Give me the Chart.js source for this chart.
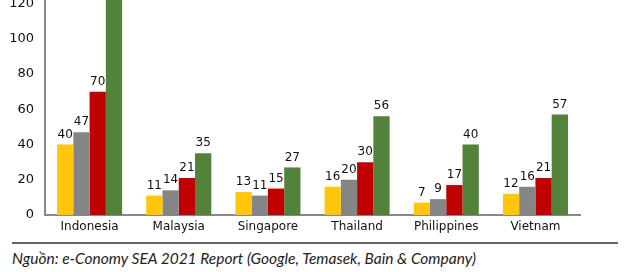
<!DOCTYPE html>
<html>
<head>
<meta charset="utf-8">
<script src="https://cdn.jsdelivr.net/npm/chart.js@4/dist/chart.umd.min.js"></script>
<style>
  html, body { margin: 0; padding: 0; background: #fff; }
  #wrap { position: relative; width: 640px; height: 272px; overflow: hidden; }
  #chart { position: absolute; left: 0; top: 0; }
  #sep { position: absolute; left: 12px; top: 242px; width: 606px; height: 0; border-top: 2px solid #666; }
  #nguon { position: absolute; left: 12px; top: 249px; font: italic 15.5px Lato, "Open Sans", sans-serif; color: #222; white-space: nowrap; }
</style>
</head>
<body>
<div id="wrap">
  <canvas id="chart" width="640" height="241"></canvas>
  <div id="sep"></div>
  <div id="nguon">Nguồn: e-Conomy SEA 2021 Report (Google, Temasek, Bain &amp; Company)</div>
</div>
<script>
// --- Dữ liệu ---
const quocGia = ["Indonesia", "Malaysia", "Singapore", "Thailand", "Philippines", "Vietnam"];
const nam2019 = [40, 11, 13, 16, 7, 12];
const nam2020 = [47, 14, 11, 20, 9, 16];
const nam2021 = [70, 21, 15, 30, 17, 21];
const nam2025 = [146, 35, 27, 56, 40, 57];
const mocY = [0, 20, 40, 60, 80, 100, 120];

const mau = ["#FFC60B", "#858585", "#C00000", "#53833A"];

// --- Nhãn giá trị trên cột ---
const nhanGiaTri = {
  id: "nhanGiaTri",
  afterDatasetsDraw(chart) {
    const ctx = chart.ctx;
    const area = chart.chartArea;
    ctx.save();
    ctx.font = "12px 'DejaVu Sans'";
    ctx.fillStyle = "#111";
    ctx.textAlign = "center";
    ctx.textBaseline = "bottom";
    chart.data.datasets.forEach((ds, i) => {
      chart.getDatasetMeta(i).data.forEach((bar, j) => {
        const y = bar.y - 4;
        if (y - 12 < area.top) return;
        ctx.fillText(ds.data[j], bar.x, y);
      });
    });
    ctx.restore();
  }
};

new Chart(document.getElementById("chart").getContext("2d"), {
  type: "bar",
  data: {
    labels: quocGia,
    datasets: [
      { label: "2019", data: nam2019, backgroundColor: mau[0] },
      { label: "2020", data: nam2020, backgroundColor: mau[1] },
      { label: "2021", data: nam2021, backgroundColor: mau[2] },
      { label: "2025", data: nam2025, backgroundColor: mau[3] }
    ]
  },
  options: {
    responsive: false,
    animation: false,
    layout: { padding: { left: 0, right: 60, top: 0, bottom: 0 } },
    datasets: { bar: { barPercentage: 1, categoryPercentage: 0.73 } },
    plugins: { legend: { display: false }, tooltip: { enabled: false } },
    scales: {
      x: {
        grid: { display: false, drawTicks: false },
        border: { color: "#888", width: 2 },
        ticks: { color: "#111", font: { family: "DejaVu Sans", size: 12 }, padding: 5 },
        afterFit: s => { s.height = 26; s.paddingLeft = 0; s.paddingRight = 0; }
      },
      y: {
        min: 0,
        max: 122,
        afterBuildTicks: s => { s.ticks = mocY.map(v => ({ value: v })); },
        grid: { display: false, drawOnChartArea: false, drawTicks: true, tickLength: 3, color: "#888" },
        border: { color: "#888", width: 2 },
        ticks: { color: "#111", font: { family: "DejaVu Sans", size: 13 }, padding: 8 },
        afterFit: s => { s.width = 45; s.paddingTop = 0; s.paddingBottom = 0; }
      }
    }
  },
  plugins: [nhanGiaTri]
});
</script>
</body>
</html>
